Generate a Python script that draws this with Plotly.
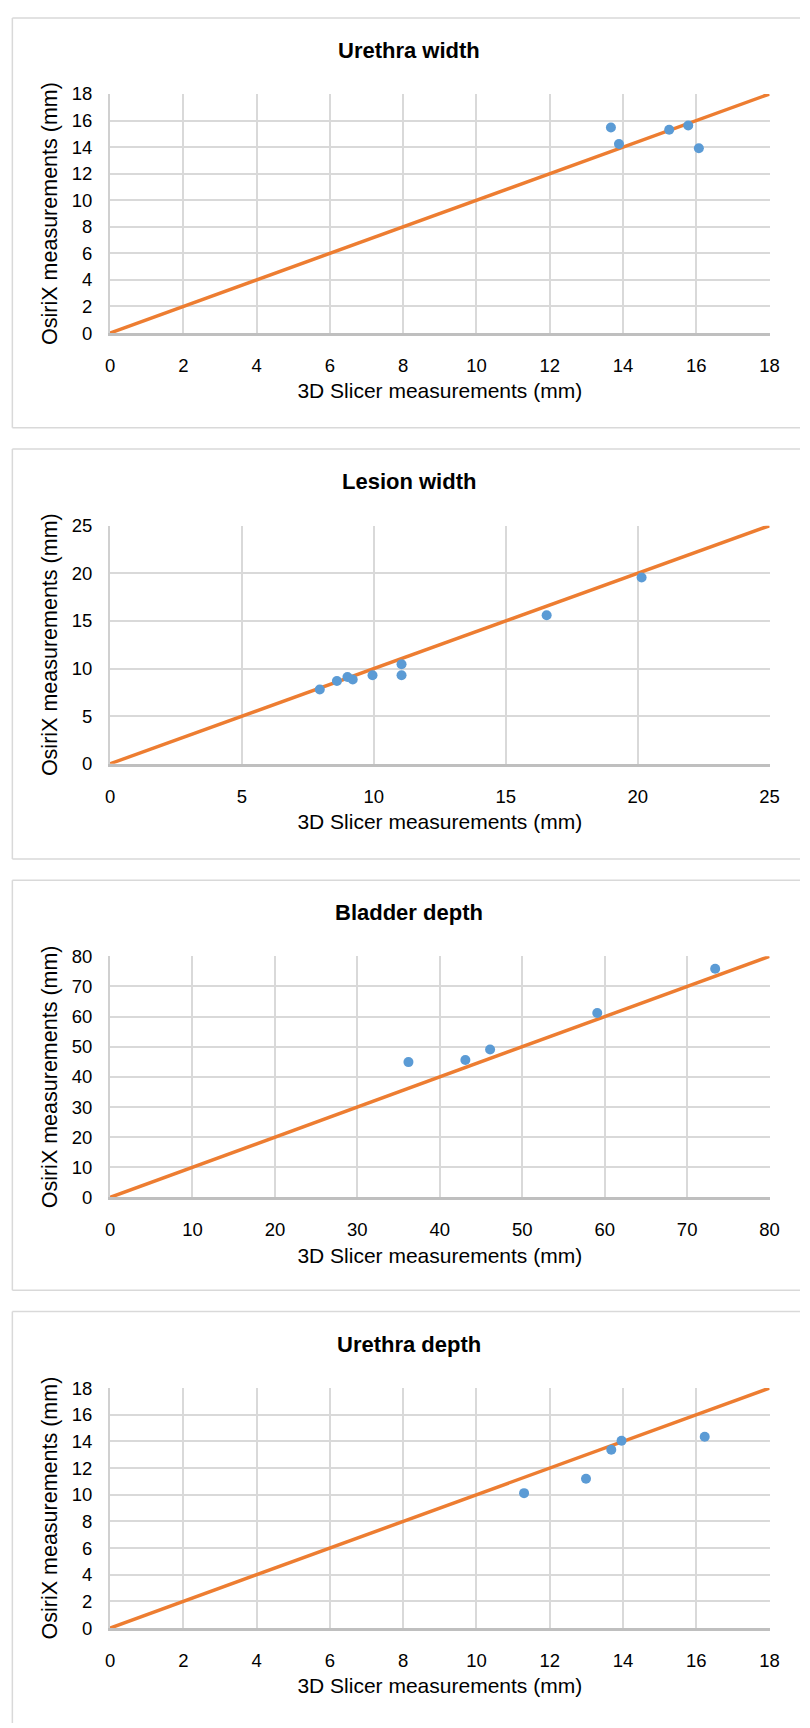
import plotly.graph_objects as go

# ---------------- data ----------------
titles = ["Urethra width", "Lesion width", "Bladder depth", "Urethra depth"]

urethra_width_x = [13.67, 13.89, 15.26, 15.78, 16.07]
urethra_width_y = [15.47, 14.24, 15.30, 15.62, 13.91]

lesion_width_x = [7.95, 8.60, 9.00, 9.20, 9.95, 11.05, 11.05, 16.55, 20.15]
lesion_width_y = [7.80, 8.68, 9.10, 8.85, 9.30, 10.45, 9.30, 15.60, 19.55]

bladder_depth_x = [36.2, 43.1, 46.1, 59.1, 73.4]
bladder_depth_y = [44.9, 45.6, 49.1, 61.2, 75.9]

urethra_depth_x = [11.30, 12.99, 13.68, 13.96, 16.23]
urethra_depth_y = [10.12, 11.20, 13.38, 14.05, 14.35]

# identity (y = x) reference lines
urethra_width_line = [0, 18]
lesion_width_line = [0, 25]
bladder_depth_line = [0, 80]
urethra_depth_line = [0, 18]

axis_max = [18, 25, 80, 18]
axis_step = [2, 5, 10, 2]

x_title = "3D Slicer measurements (mm)"
y_title = "OsiriX measurements (mm)"

series = [
    (urethra_width_x, urethra_width_y, urethra_width_line),
    (lesion_width_x, lesion_width_y, lesion_width_line),
    (bladder_depth_x, bladder_depth_y, bladder_depth_line),
    (urethra_depth_x, urethra_depth_y, urethra_depth_line),
]

# ---------------- layout ----------------
W, H = 810, 1728
FONT = "Liberation Sans, Arial, sans-serif"
BLUE = "#5B9BD5"
ORANGE = "#ED7D31"
FRAME = "#D9D9D9"

# positions in page pixels
plot_left, plot_right = 107, 779
plot_tops = [84, 521, 957, 1394]
plot_bottoms = [326, 762, 1201, 1637]
box_left = 7.5
box_tops = [7, 443.5, 880, 1316.5]
box_bottoms = [422, 858.5, 1295, None]
title_y = [40, 476.5, 913, 1349.5]


def px(p):
    return p / W


def py(p):
    return 1 - p / H


fig = go.Figure()
layout = dict(
    width=W, height=H,
    margin=dict(l=0, r=0, t=0, b=0),
    paper_bgcolor="white", plot_bgcolor="white",
    showlegend=False,
    font=dict(family=FONT, color="#000000"),
    shapes=[], annotations=[],
)

for i, (xs, ys, line) in enumerate(series):
    n = "" if i == 0 else str(i + 1)
    xa, ya = "x" + n, "y" + n
    fig.add_trace(go.Scatter(
        x=line, y=line, mode="lines", xaxis=xa, yaxis=ya,
        line=dict(color=ORANGE, width=3.5), hoverinfo="skip", cliponaxis=False,
    ))
    fig.add_trace(go.Scatter(
        x=xs, y=ys, mode="markers", xaxis=xa, yaxis=ya,
        marker=dict(color=BLUE, size=10, line=dict(width=0)), cliponaxis=False,
    ))
    common_grid = dict(showgrid=True, gridcolor="#D9D9D9", gridwidth=1.5,
                       zeroline=False, tickfont=dict(size=18.5, family=FONT, color="#000"),
                       ticks="", range=[0, axis_max[i]], dtick=axis_step[i], tick0=0,
                       fixedrange=True)
    layout["xaxis" + n] = dict(
        **common_grid,
        domain=[px(plot_left), px(plot_right)],
        anchor=ya,
        showline=True, linecolor="#BFBFBF", linewidth=2.5,
        ticklabelstandoff=14,
        title=dict(text=x_title, font=dict(size=21, family=FONT, color="#000"), standoff=9),
    )
    layout["yaxis" + n] = dict(
        **common_grid,
        domain=[py(plot_bottoms[i]), py(plot_tops[i])],
        anchor=xa,
        showline=True, linecolor="#D0D0D0", linewidth=2,
        ticklabelstandoff=12,
        title=dict(text=y_title, font=dict(size=21.5, family=FONT, color="#000"), standoff=8),
    )
    # chart frame: top, left and bottom edges (right edge runs off the page)
    bottom = box_bottoms[i] if box_bottoms[i] is not None else H + 5
    frame_line = dict(color=FRAME, width=1.5)
    layout["shapes"].append(dict(type="line", xref="paper", yref="paper",
                                 x0=px(box_left), x1=1, y0=py(box_tops[i]), y1=py(box_tops[i]),
                                 line=frame_line, layer="below"))
    layout["shapes"].append(dict(type="line", xref="paper", yref="paper",
                                 x0=px(box_left), x1=px(box_left), y0=py(bottom), y1=py(box_tops[i]),
                                 line=frame_line, layer="below"))
    if box_bottoms[i] is not None:
        layout["shapes"].append(dict(type="line", xref="paper", yref="paper",
                                     x0=px(box_left), x1=1, y0=py(bottom), y1=py(bottom),
                                     line=frame_line, layer="below"))
    layout["annotations"].append(dict(
        text="<b>" + titles[i] + "</b>", xref="paper", yref="paper",
        x=px(412), y=py(title_y[i]), xanchor="center", yanchor="middle",
        showarrow=False, font=dict(size=22, family=FONT, color="#000"),
    ))

fig.update_layout(**layout)
fig.write_html("out.html", config={"displayModeBar": False},
               post_script="document.body.style.margin='0';")
